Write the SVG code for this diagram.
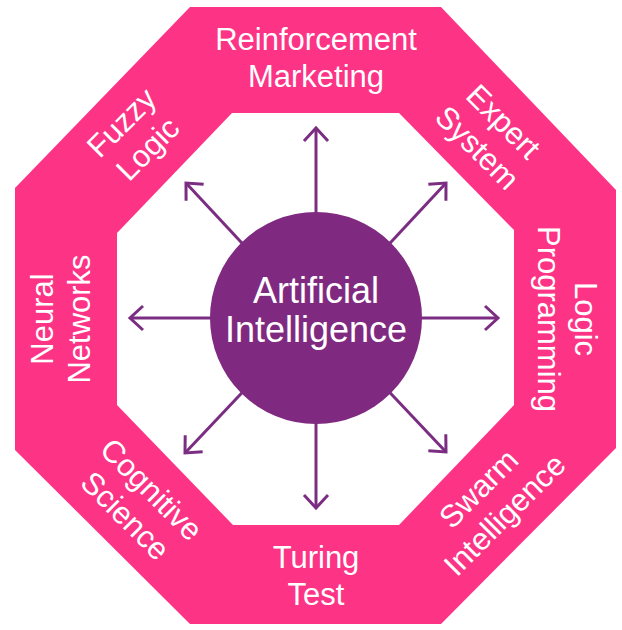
<svg xmlns="http://www.w3.org/2000/svg" width="622" height="630" viewBox="0 0 622 630">
  <defs>
    <style>
      .ring { fill: #fd3386; }
      .hole { fill: #ffffff; }
      .hub { fill: #7f2a80; }
      .lbl { font-family: "Liberation Sans", "Open Sans", Arial, sans-serif; font-size: 31px; fill: #ffffff; text-anchor: middle; }
      .hubtxt { font-family: "Liberation Sans", "Open Sans", Arial, sans-serif; font-size: 36px; fill: #ffffff; text-anchor: middle; }
      .arrow { stroke: #7b2d82; stroke-width: 3; fill: none; marker-end: url(#chev); }
    </style>
    <marker id="chev" markerUnits="userSpaceOnUse" viewBox="-20 -16 24 32" refX="0" refY="0" markerWidth="24" markerHeight="32" orient="auto">
      <path d="M-13,-12 L0,0 L-13,12" fill="none" stroke="#7b2d82" stroke-width="3" stroke-linejoin="miter"/>
    </marker>
  </defs>

  <!-- octagonal band -->
  <polygon class="ring" points="190,7 441,7 616,190 616,448 441,624 190,624 15,450 15,188"/>
  <polygon class="hole" points="232,113 399,113 514,230 514,405 399,525 233,525 117,405 117,233"/>

  <!-- connectors from the hub outwards -->
  <g id="connectors">
    <line class="arrow" x1="316" y1="230" x2="316" y2="128"/>
    <line class="arrow" x1="316" y1="406" x2="316" y2="508"/>
    <line class="arrow" x1="228" y1="318" x2="130" y2="318"/>
    <line class="arrow" x1="404" y1="318" x2="498" y2="318"/>
    <line class="arrow" x1="254" y1="256" x2="186" y2="183"/>
    <line class="arrow" x1="378" y1="256" x2="446" y2="183"/>
    <line class="arrow" x1="378" y1="380" x2="446" y2="452"/>
    <line class="arrow" x1="254" y1="380" x2="185" y2="453"/>
  </g>

  <g id="hub">
    <circle class="hub" cx="316" cy="318" r="106"/>
    <text class="hubtxt" x="316" y="303">Artificial</text>
    <text class="hubtxt" x="316" y="342">Intelligence</text>
  </g>

  <g id="reinforcement-marketing" transform="translate(316,57)">
    <text class="lbl" y="-7">Reinforcement</text>
    <text class="lbl" y="30">Marketing</text>
  </g>

  <g id="expert-system" transform="translate(491,134) rotate(45)">
    <text class="lbl" y="-7">Expert</text>
    <text class="lbl" y="30">System</text>
  </g>

  <g id="logic-programming" transform="translate(568,319) rotate(90)">
    <text class="lbl" y="-7">Logic</text>
    <text class="lbl" y="30">Programming</text>
  </g>

  <g id="swarm-intelligence" transform="translate(491,501) rotate(-45)">
    <text class="lbl" y="-7">Swarm</text>
    <text class="lbl" y="30">Intelligence</text>
  </g>

  <g id="turing-test" transform="translate(316,575)">
    <text class="lbl" y="-7">Turing</text>
    <text class="lbl" y="30">Test</text>
  </g>

  <g id="cognitive-science" transform="translate(139,502) rotate(45)">
    <text class="lbl" y="-7">Cognitive</text>
    <text class="lbl" y="30">Science</text>
  </g>

  <g id="neural-networks" transform="translate(60,319) rotate(-90)">
    <text class="lbl" y="-7">Neural</text>
    <text class="lbl" y="30">Networks</text>
  </g>

  <g id="fuzzy-logic" transform="translate(134,135) rotate(-45)">
    <text class="lbl" y="-7">Fuzzy</text>
    <text class="lbl" y="30">Logic</text>
  </g>
</svg>
